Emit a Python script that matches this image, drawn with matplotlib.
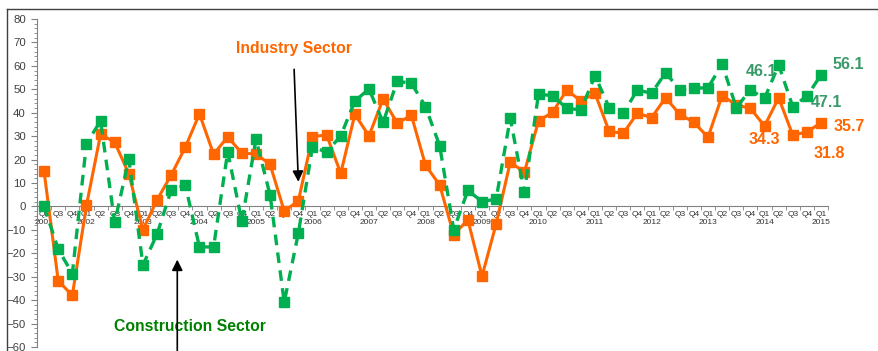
import matplotlib
matplotlib.use("Agg")
import matplotlib.pyplot as plt
from matplotlib.ticker import MultipleLocator

plt.rcParams['font.family'] = ['Liberation Sans', 'DejaVu Sans']

# Quarterly survey balances, Q2 2001 .. Q1 2015
years = list(range(2001, 2016))
industry = [15, -31.7, -38,
            0.4, 30.8, 27.4, 13.9,
            -10, 2.8, 13.4, 25.3,
            39.5, 22.3, 29.7, 22.7,
            22.4, 17.9, -2, 2.3,
            29.8, 30.5, 14.1, 39.3,
            30.1, 45.9, 35.5, 38.9,
            17.6, 9.2, -12.1, -5.7,
            -29.8, -7.5, 18.9, 14.6,
            36.5, 40.2, 49.7, 45,
            48.3, 32, 31.2, 39.8,
            37.9, 46.4, 39.3, 35.9,
            29.5, 47.3, 43.3, 41.9,
            34.3, 46.4, 30.4, 31.8,
            35.7]
construction = [0, -18.2, -28.7,
                26.8, 36.5, -6.8, 20.2,
                -25, -11.8, 7, 9,
                -17.3, -17.3, 23.4, -6.4,
                28.7, 4.8, -40.9, -11.4,
                25.4, 23.2, 30.1, 45,
                50.1, 35.9, 53.4, 52.6,
                42.6, 26, -9.9, 6.8,
                2.1, 3.1, 37.6, 6.1,
                48, 47.2, 41.9, 41.2,
                55.8, 42.2, 39.8, 49.7,
                48.3, 57.1, 49.7, 50.4,
                50.7, 60.7, 42.2, 49.7,
                46.1, 60.4, 42.6, 47.1,
                56.1]

# tick labels: quarter, with the year under each Q1 (and the first point)
labels = []
for y in years:
    for q in range(1, 5):
        if (y == 2001 and q == 1) or (y == 2015 and q > 1):
            continue
        if q == 1 or not labels:
            labels.append(f"Q{q}\n{y}")
        else:
            labels.append(f"Q{q}")
x = list(range(len(industry)))

ORANGE = '#FF6600'
GREEN = '#00B050'
LABEL_GREEN = '#3A9A6A'

fig = plt.figure(figsize=(8.79, 3.51), dpi=100)
ax = fig.add_axes([0.0421, 0.0114, 0.900, 0.9345])

ax.plot(x, industry, color=ORANGE, lw=2.2, marker='s', ms=7.5,
        mec=ORANGE, mfc=ORANGE, zorder=3)
ax.plot(x, construction, color=GREEN, lw=2.4, ls=(0, (3.2, 2.2)),
        marker='s', ms=7.5, mec=GREEN, mfc=GREEN, zorder=4)

ax.set_xlim(-0.5, len(x) - 0.5)
ax.set_ylim(-60, 80)
ax.yaxis.set_major_locator(MultipleLocator(10))
ax.yaxis.set_minor_locator(MultipleLocator(2))
ax.tick_params(axis='y', which='major', length=4, width=0.8, colors='#808080',
               labelcolor='#404040', labelsize=8.2, pad=4)
ax.tick_params(axis='y', which='minor', length=2.5, width=0.6, colors='#808080')

ax.set_xticks(x)
ax.set_xticks([i - 0.5 for i in x] + [len(x) - 0.5], minor=True)
ax.tick_params(axis='x', which='major', length=0, pad=3, labelsize=6,
               labelcolor='#333333')
ax.tick_params(axis='x', which='minor', length=3, width=0.6, colors='#808080')
ax.set_xticklabels(labels, fontsize=6, color='#333333', linespacing=1.45)

for s in ['top', 'right']:
    ax.spines[s].set_visible(False)
ax.spines['bottom'].set_position(('data', 0))
ax.spines['bottom'].set_color('#808080')
ax.spines['left'].set_color('#808080')

# end-point value labels
ax.text(50.8, 57.5, '46.1', color=LABEL_GREEN, fontsize=11.5, fontweight='bold',
        ha='center', va='center', zorder=5)
ax.text(56.9, 60.5, '56.1', color=LABEL_GREEN, fontsize=11.5, fontweight='bold',
        ha='center', va='center', clip_on=False)
ax.text(55.4, 44.3, '47.1', color=LABEL_GREEN, fontsize=11.5, fontweight='bold',
        ha='center', va='center', clip_on=False)
ax.text(57.0, 34.0, '35.7', color=ORANGE, fontsize=11.5, fontweight='bold',
        ha='center', va='center', clip_on=False)
ax.text(51.0, 28.5, '34.3', color=ORANGE, fontsize=11.5, fontweight='bold',
        ha='center', va='center')
ax.text(55.6, 22.7, '31.8', color=ORANGE, fontsize=11.5, fontweight='bold',
        ha='center', va='center', clip_on=False)

# sector call-outs
ax.text(17.7, 67.3, 'Industry Sector', color=ORANGE, fontsize=11.3, fontweight='bold',
        ha='center', va='center')
ax.annotate('', xy=(18.0, 10.5), xytext=(17.7, 58.5),
            arrowprops=dict(arrowstyle='-|>', color='black', lw=1.2,
                            mutation_scale=16, shrinkA=0, shrinkB=0), zorder=6)
ax.text(10.3, -51.4, 'Construction Sector', color='#008000', fontsize=11.3,
        fontweight='bold', ha='center', va='center')
ax.annotate('', xy=(9.43, -22.7), xytext=(9.43, -62),
            arrowprops=dict(arrowstyle='-|>', color='black', lw=1.2,
                            mutation_scale=16, shrinkA=0, shrinkB=0),
            annotation_clip=False, zorder=6)

# outer frame (top and left edges)
fig.add_artist(plt.Line2D([7 / 879, 7 / 879], [0, 1 - 9 / 351], color='#404040', lw=1))
fig.add_artist(plt.Line2D([7 / 879, 1], [1 - 9 / 351, 1 - 9 / 351], color='#404040', lw=1))

fig.savefig('out.png', dpi=100)
